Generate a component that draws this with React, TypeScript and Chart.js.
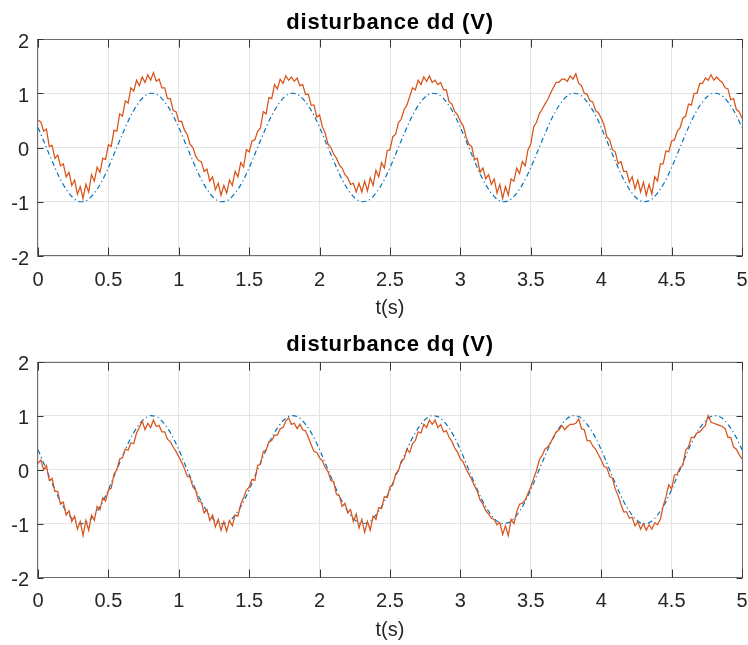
import { useEffect, useRef } from 'react';
import { Chart, registerables } from 'chart.js';

Chart.register(...registerables);

// ---------- data ----------
const X_MIN = 0;
const X_MAX = 5;
const X_STEP_TICK = 0.5;
const Y_MIN = -2;
const Y_MAX = 2;
const Y_STEP_TICK = 1;

const REF_STEP = 0.05; // sampling interval of the reference curve (s)
const SIG_STEP = 0.02; // sampling interval of the measured curves (s)

const TITLE_DD = 'disturbance dd (V)';
const TITLE_DQ = 'disturbance dq (V)';
const X_LABEL = 't(s)';

// reference disturbance (blue dash-dot), t = 0 .. 5 step 0.05
const REFERENCE = [
  0.37, 0.06, -0.25, -0.54, -0.77, -0.93, -1.0, -0.97, -0.84, -0.64, -0.37, -0.06, 0.25, 0.54, 0.77, 0.93, 1.0, 0.97, 0.84, 0.64,
  0.37, 0.06, -0.25, -0.54, -0.77, -0.93, -1.0, -0.97, -0.84, -0.64, -0.37, -0.06, 0.25, 0.54, 0.77, 0.93, 1.0, 0.97, 0.84, 0.64,
  0.37, 0.06, -0.25, -0.54, -0.77, -0.93, -1.0, -0.97, -0.84, -0.64, -0.37, -0.06, 0.25, 0.54, 0.77, 0.93, 1.0, 0.97, 0.84, 0.64,
  0.37, 0.06, -0.25, -0.54, -0.77, -0.93, -1.0, -0.97, -0.84, -0.64, -0.37, -0.06, 0.25, 0.54, 0.77, 0.93, 1.0, 0.97, 0.84, 0.64,
  0.37, 0.06, -0.25, -0.54, -0.77, -0.93, -1.0, -0.97, -0.84, -0.64, -0.37, -0.06, 0.25, 0.54, 0.77, 0.93, 1.0, 0.97, 0.84, 0.64,
  0.37,
];

// estimated dd disturbance (orange), t = 0 .. 5 step 0.02
const EST_DD = [
  0.50, 0.47, 0.30, 0.34, 0.02, 0.04, -0.20, -0.14, -0.34, -0.30, -0.54, -0.46, -0.70, -0.60, -0.86, -0.72, -0.94, -0.68, -0.82, -0.50, -0.62, -0.36, -0.46, -0.20, -0.22,
  0.05, 0.02, 0.32, 0.30, 0.62, 0.58, 0.86, 0.82, 1.10, 1.04, 1.24, 1.14, 1.30, 1.20, 1.34, 1.24, 1.38, 1.22, 1.26, 1.10, 1.10, 0.90, 0.90, 0.68, 0.66,
  0.48, 0.48, 0.32, 0.24, 0.06, 0.00, -0.16, -0.24, -0.26, -0.44, -0.40, -0.62, -0.54, -0.78, -0.66, -0.88, -0.70, -0.84, -0.60, -0.70, -0.44, -0.54, -0.28, -0.36, -0.04,
  -0.08, 0.12, 0.14, 0.30, 0.36, 0.66, 0.62, 0.92, 0.90, 1.16, 1.08, 1.26, 1.18, 1.32, 1.24, 1.30, 1.22, 1.28, 1.14, 1.16, 0.98, 0.98, 0.78, 0.78, 0.56,
  0.60, 0.38, 0.26, 0.06, 0.00, -0.12, -0.20, -0.32, -0.38, -0.50, -0.56, -0.68, -0.66, -0.82, -0.66, -0.82, -0.62, -0.80, -0.56, -0.70, -0.42, -0.54, -0.28, -0.38, -0.06,
  -0.04, 0.20, 0.24, 0.46, 0.52, 0.70, 0.78, 0.94, 1.10, 1.06, 1.24, 1.16, 1.30, 1.22, 1.32, 1.20, 1.24, 1.16, 1.20, 1.06, 1.06, 0.84, 0.80, 0.66, 0.60,
  0.48, 0.40, 0.20, 0.06, 0.02, -0.22, -0.20, -0.46, -0.38, -0.58, -0.50, -0.68, -0.58, -0.84, -0.68, -0.94, -0.72, -0.88, -0.58, -0.62, -0.38, -0.48, -0.26, -0.34, -0.04,
  0.06, 0.38, 0.46, 0.62, 0.70, 0.80, 0.88, 1.00, 1.10, 1.20, 1.20, 1.26, 1.26, 1.22, 1.32, 1.26, 1.36, 1.18, 1.14, 1.00, 0.98, 0.86, 0.84, 0.68, 0.64,
  0.54, 0.42, 0.20, 0.14, -0.04, -0.08, -0.30, -0.26, -0.44, -0.44, -0.64, -0.54, -0.76, -0.60, -0.82, -0.64, -0.88, -0.68, -0.86, -0.54, -0.62, -0.30, -0.30, -0.06, -0.08,
  0.12, 0.14, 0.30, 0.36, 0.54, 0.58, 0.80, 0.78, 1.00, 1.00, 1.18, 1.18, 1.28, 1.24, 1.34, 1.24, 1.30, 1.24, 1.20, 1.10, 1.08, 0.88, 0.90, 0.70, 0.66,
  0.54,
];

// estimated dq disturbance (orange), t = 0 .. 5 step 0.02
const EST_DQ = [
  0.12, 0.18, 0.00, 0.08, -0.20, -0.16, -0.40, -0.40, -0.64, -0.60, -0.84, -0.76, -0.96, -0.86, -1.10, -0.96, -1.22, -0.94, -1.12, -0.84, -0.94, -0.68, -0.74, -0.52, -0.58,
  -0.38, -0.34, -0.08, 0.00, 0.20, 0.22, 0.38, 0.36, 0.50, 0.48, 0.68, 0.78, 0.90, 0.74, 0.86, 0.78, 0.92, 0.80, 0.82, 0.70, 0.70, 0.56, 0.52, 0.42, 0.34,
  0.24, 0.14, 0.02, -0.12, -0.14, -0.32, -0.38, -0.58, -0.60, -0.80, -0.74, -0.94, -0.84, -1.06, -0.92, -1.12, -0.96, -1.14, -0.94, -1.04, -0.84, -0.86, -0.64, -0.52, -0.38,
  -0.32, -0.18, -0.20, 0.08, 0.10, 0.34, 0.36, 0.52, 0.54, 0.64, 0.64, 0.76, 0.78, 0.90, 0.96, 0.84, 0.86, 0.76, 0.84, 0.74, 0.72, 0.60, 0.46, 0.34, 0.32,
  0.22, 0.16, 0.04, -0.04, -0.20, -0.22, -0.46, -0.48, -0.68, -0.62, -0.80, -0.74, -0.96, -0.82, -1.08, -0.92, -1.16, -0.96, -1.12, -0.86, -0.92, -0.70, -0.72, -0.50, -0.52,
  -0.32, -0.28, -0.08, -0.02, 0.16, 0.20, 0.38, 0.32, 0.48, 0.54, 0.70, 0.68, 0.84, 0.78, 0.92, 0.84, 0.92, 0.78, 0.84, 0.70, 0.72, 0.60, 0.52, 0.40, 0.32,
  0.20, 0.14, 0.02, -0.08, -0.18, -0.30, -0.40, -0.56, -0.64, -0.76, -0.82, -0.90, -0.92, -1.02, -0.98, -1.20, -1.04, -1.22, -0.92, -1.00, -0.78, -0.64, -0.62, -0.56, -0.44,
  -0.32, -0.16, -0.02, 0.18, 0.26, 0.38, 0.42, 0.50, 0.60, 0.70, 0.74, 0.82, 0.74, 0.80, 0.84, 0.84, 0.86, 0.94, 0.76, 0.74, 0.54, 0.54, 0.44, 0.38, 0.28,
  0.18, 0.06, 0.04, -0.12, -0.16, -0.36, -0.48, -0.64, -0.78, -0.78, -0.90, -0.88, -1.04, -0.96, -1.10, -1.00, -1.12, -1.02, -1.10, -0.98, -1.02, -0.92, -0.68, -0.50, -0.28,
  -0.36, -0.10, -0.08, 0.04, 0.08, 0.36, 0.42, 0.60, 0.60, 0.68, 0.70, 0.76, 0.82, 1.00, 0.88, 0.86, 0.84, 0.82, 0.80, 0.76, 0.60, 0.60, 0.42, 0.38, 0.28,
  0.20,
];

// ---------- styling ----------
const FONT = "'Liberation Sans', Arial, Helvetica, sans-serif";
const BLUE = '#0072BD';
const ORANGE = '#D95319';
const GRID = '#e4e4e4';
const TEXT = '#262626';
const W = 748;

type Spec = {
  height: number;
  padTop: number;
  xAxisH: number;
  titleBaseline: number;
  xTitlePad: number;
};

const framePlugin = {
  id: 'panelFrame',
  afterDraw(chart: any, _args: any, opts: any) {
    const { ctx, chartArea: a, scales } = chart;
    const xs = scales.x;
    const ys = scales.y;
    ctx.save();
    ctx.lineWidth = 1;
    ctx.strokeStyle = '#6e6e6e';
    const L = Math.round(a.left) - 0.5;
    const R = Math.round(a.right) + 0.5;
    const T = Math.round(a.top) + 0.5;
    const B = Math.round(a.bottom) - 0.5;
    ctx.strokeRect(L, T, R - L, B - T);
    ctx.strokeStyle = '#333333';
    ctx.beginPath();
    for (const t of xs.ticks) {
      const px = Math.round(xs.getPixelForValue(t.value)) + 0.5;
      ctx.moveTo(px, B);
      ctx.lineTo(px, B - 8);
      ctx.moveTo(px, T);
      ctx.lineTo(px, T + 8);
    }
    for (const t of ys.ticks) {
      const py = Math.round(ys.getPixelForValue(t.value)) + 0.5;
      ctx.moveTo(L, py);
      ctx.lineTo(L + 6, py);
      ctx.moveTo(R, py);
      ctx.lineTo(R - 6, py);
    }
    ctx.stroke();
    ctx.fillStyle = '#000000';
    ctx.font = `bold 22px ${FONT}`;
    ctx.textAlign = 'center';
    ctx.textBaseline = 'alphabetic';
    try {
      (ctx as any).letterSpacing = '0.8px';
    } catch (e) {}
    ctx.fillText(opts.title, (a.left + a.right) / 2, opts.baseline);
    ctx.restore();
  },
};

function buildConfig(title: string, signal: number[], spec: Spec): any {
  const refPts = REFERENCE.map((v, i) => ({ x: +(i * REF_STEP).toFixed(3), y: v }));
  const sigPts = signal.map((v, i) => ({ x: +(i * SIG_STEP).toFixed(3), y: v }));
  const tickFont = { size: 20, family: FONT };
  const fmt = (v: any) => String(Math.round(Number(v) * 100) / 100);
  return {
    type: 'line',
    data: {
      datasets: [
        {
          label: 'estimated',
          data: sigPts,
          borderColor: ORANGE,
          borderWidth: 1.25,
          pointRadius: 0,
          tension: 0,
          fill: false,
        },
        {
          label: 'reference',
          data: refPts,
          borderColor: BLUE,
          borderWidth: 1.2,
          borderDash: [5, 3, 1.2, 3],
          pointRadius: 0,
          cubicInterpolationMode: 'monotone',
          fill: false,
        },
      ],
    },
    options: {
      responsive: false,
      animation: false,
      events: [],
      layout: { padding: { top: spec.padTop, right: 6, left: 0, bottom: 0 } },
      plugins: {
        legend: { display: false },
        tooltip: { enabled: false },
        title: { display: false },
        panelFrame: { title, baseline: spec.titleBaseline },
      },
      scales: {
        x: {
          type: 'linear',
          min: X_MIN,
          max: X_MAX,
          afterFit: (s: any) => {
            s.height = spec.xAxisH;
            s.paddingLeft = 0;
            s.paddingRight = 0;
          },
          ticks: {
            stepSize: X_STEP_TICK,
            padding: 12,
            color: TEXT,
            font: tickFont,
            maxRotation: 0,
            autoSkip: false,
            callback: fmt,
          },
          grid: { color: GRID, drawTicks: false, lineWidth: 1 },
          border: { display: false },
          title: {
            display: true,
            text: X_LABEL,
            color: TEXT,
            font: { size: 20, family: FONT },
            padding: { top: 0, bottom: spec.xTitlePad },
          },
        },
        y: {
          type: 'linear',
          min: Y_MIN,
          max: Y_MAX,
          afterFit: (s: any) => {
            s.width = 38;
          },
          ticks: {
            stepSize: Y_STEP_TICK,
            padding: 9,
            labelOffset: 3,
            color: TEXT,
            font: tickFont,
            callback: fmt,
          },
          grid: { color: GRID, drawTicks: false, lineWidth: 1 },
          border: { display: false },
        },
      },
    },
    plugins: [framePlugin],
  };
}

const SPEC_TOP: Spec = { height: 322, padTop: 39, xAxisH: 66, titleBaseline: 28.5, xTitlePad: 1.4 };
const SPEC_BOT: Spec = { height: 323, padTop: 39.7, xAxisH: 67.3, titleBaseline: 28.8, xTitlePad: 2.4 };

export default function App() {
  const topRef = useRef<HTMLCanvasElement>(null);
  const botRef = useRef<HTMLCanvasElement>(null);

  useEffect(() => {
    const c1 = new Chart(topRef.current as HTMLCanvasElement, buildConfig(TITLE_DD, EST_DD, SPEC_TOP));
    const c2 = new Chart(botRef.current as HTMLCanvasElement, buildConfig(TITLE_DQ, EST_DQ, SPEC_BOT));
    return () => {
      c1.destroy();
      c2.destroy();
    };
  }, []);

  return (
    <div style={{ position: 'absolute', left: 0, top: 0, width: W, height: 645, background: '#ffffff' }}>
      <canvas
        ref={topRef}
        width={W}
        height={SPEC_TOP.height}
        style={{ position: 'absolute', left: 0, top: 0, width: W, height: SPEC_TOP.height, display: 'block' }}
      />
      <canvas
        ref={botRef}
        width={W}
        height={SPEC_BOT.height}
        style={{ position: 'absolute', left: 0, top: 322, width: W, height: SPEC_BOT.height, display: 'block' }}
      />
    </div>
  );
}
